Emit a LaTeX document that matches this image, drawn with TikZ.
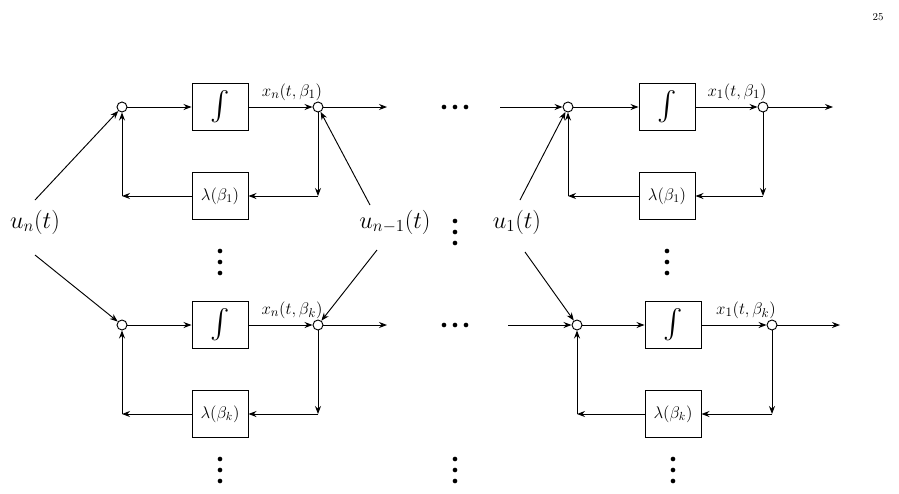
\documentclass[tikz,border=0pt]{standalone}
\usepackage{amsmath}
\usetikzlibrary{arrows.meta,positioning}
\tikzset{>={Stealth[width=1.8mm,length=2.4mm]}}
\tikzset{
  block/.style = {draw, thick, minimum width=1.68cm, minimum height=1.41cm, inner sep=0pt, font=\fontsize{14}{16}\selectfont},
  sum/.style = {draw, thick, circle, fill=white, minimum size=0.3cm, inner sep=0pt},
  dot/.style = {circle, fill, inner sep=0pt, minimum size=0.14cm},
  ulab/.style = {font=\fontsize{22}{26}\selectfont},
  xlab/.style = {font=\fontsize{15}{18}\selectfont},
}
\begin{document}
\begin{tikzpicture}[x=0.03cm, y=-0.03cm, thick]
  \useasboundingbox (0,0) rectangle (899,493);
  \node at (878,17) {\small 25};
  % four integrator loops: name / left sum / row / box / right sum / out / output label
  \foreach \b/\xl/\y/\xb/\xr/\xo/\lab/\lam in {
      a/122/107/220/318/387/{x_n(t,\beta_1)}/{\lambda(\beta_1)},
      b/122/325/220/318/387/{x_n(t,\beta_k)}/{\lambda(\beta_k)},
      c/568/107/667/763/833/{x_1(t,\beta_1)}/{\lambda(\beta_1)},
      d/577/325/673/772/840/{x_1(t,\beta_k)}/{\lambda(\beta_k)}} {
    \node (\b l) [sum] at (\xl,\y) {};
    \node (\b i) [block] at (\xb,\y) {\fontsize{26}{30}\selectfont$\int$};
    \node (\b r) [sum] at (\xr,\y) {};
    \node (\b f) [block] at (\xb,\y+89) {$\lam$};
    \coordinate (\b o) at (\xo,\y);
    \coordinate (\b d) at (\xr,\y+89);
    \coordinate (\b u) at (\xl,\y+89);
    \node [xlab] at (\xr-26,\y-15) {$\lab$};
    \draw[->] (\b l) -- (\b i);
    \draw[->] (\b i) -- (\b r);
    \draw[->] (\b r) -- (\b o);
    \draw[->] (\b r) -- (\b d);
    \draw[->] (\b d) -- (\b f);
    \draw[->] (\b f) -- (\b u);
    \draw[->] (\b u) -- (\b l);
  }
  % inputs
  \node (un) [ulab] at (35,222) {$u_n(t)$};
  \node (um) [ulab] at (395,222) {$u_{n-1}(t)$};
  \node (uo) [ulab] at (517,222) {$u_1(t)$};
  \coordinate (un1) at (35,200);
  \coordinate (un2) at (35,255);
  \coordinate (um1) at (370,205);
  \coordinate (um2) at (377,250);
  \coordinate (uo1) at (520,200);
  \coordinate (uo2) at (525,252);
  \coordinate (ci) at (500,107);
  \coordinate (di) at (508,325);
  \draw[->] (un1) -- (al);
  \draw[->] (un2) -- (bl);
  \draw[->] (um1) -- (ar);
  \draw[->] (um2) -- (br);
  \draw[->] (uo1) -- (cl);
  \draw[->] (uo2) -- (dl);
  \draw[->] (ci) -- (cl);
  \draw[->] (di) -- (dl);
  % dots
  \foreach \x/\y in {220/262, 220/470, 455/232, 455/470, 667/262, 673/470}
    \foreach \d in {-11,0,11}
      \node [dot] at (\x,\y+\d) {};
  \foreach \y in {107,325}
    \foreach \d in {-11,0,11}
      \node [dot] at (455+\d,\y) {};
\end{tikzpicture}
\end{document}
